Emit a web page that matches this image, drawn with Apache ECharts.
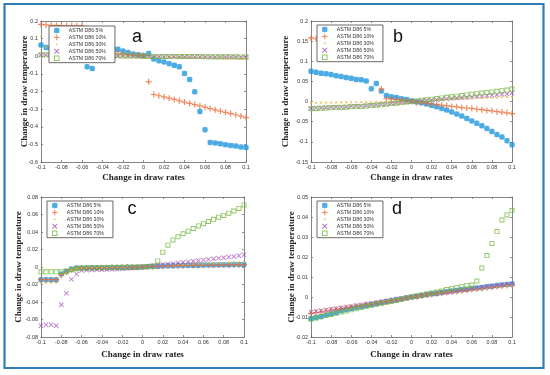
<!DOCTYPE html>
<html><head><meta charset="utf-8">
<script src="https://cdn.jsdelivr.net/npm/echarts@6/dist/echarts.min.js"></script>
<style>html,body{margin:0;padding:0;background:#fff}#c{width:550px;height:375px}</style>
</head><body><div id="c"></div>
<script>
// ---------- data ----------
const drawRates = [-0.1,-0.095,-0.09,-0.085,-0.08,-0.075,-0.07,-0.065,-0.06,-0.055,-0.05,-0.045,-0.04,-0.035,-0.03,-0.025,-0.02,-0.015,-0.01,-0.005,0,0.005,0.01,0.015,0.02,0.025,0.03,0.035,0.04,0.045,0.05,0.055,0.06,0.065,0.07,0.075,0.08,0.085,0.09,0.095,0.1];
const seriesNames = ['ASTM D86 5%','ASTM D86 10%','ASTM D86 30%','ASTM D86 50%','ASTM D86 70%'];
const panelLetters = ['a','b','c','d'];
const xAxisTitle = 'Change in draw rates';
const yAxisTitle = 'Change in draw temperature';
const xRange = [-0.1, 0.1, 0.02];
const yRanges = [[-0.6,0.2,0.1],[-0.15,0.2,0.05],[-0.08,0.08,0.02],[-0.02,0.05,0.01]];

// panel a
const a5  = [0.064,0.049,0.04,0.033,0.027,0.02,0.013,0.006,-0.005,-0.06,-0.07,0.06,0.055,0.05,0.045,0.04,0.03,0.021,0.013,0.009,0.004,0.015,-0.015,-0.025,-0.032,-0.042,-0.051,-0.06,-0.098,-0.132,-0.202,-0.313,-0.417,-0.489,-0.492,-0.496,-0.502,-0.506,-0.509,-0.515,-0.518];
const a10 = [0.181,0.178,0.176,0.175,0.174,0.173,0.173,0.172,0.172,0.15,0.12,0.09,0.06,0.04,0.025,0.017,0.013,0.009,0.008,0.006,0.004,-0.145,-0.217,-0.224,-0.231,-0.238,-0.245,-0.253,-0.26,-0.267,-0.274,-0.282,-0.289,-0.297,-0.304,-0.311,-0.318,-0.325,-0.332,-0.34,-0.348];
const a30 = [0.112,0.05,0.035,0.028,0.022,0.018,0.015,0.012,0.01,0.008,0.007,0.006,0.005,0.004,0.004,0.003,0.003,0.002,0.002,0.001,0,-0.001,-0.002,-0.002,-0.003,-0.004,-0.005,-0.005,-0.006,-0.007,-0.008,-0.008,-0.009,-0.01,-0.011,-0.011,-0.012,-0.013,-0.014,-0.014,-0.015];
const a50 = [0.007,0.007,0.006,0.006,0.006,0.005,0.005,0.005,0.004,0.004,0.004,0.003,0.003,0.003,0.002,0.002,0.002,0.001,0.001,0.001,0,-0.001,-0.001,-0.002,-0.002,-0.002,-0.002,-0.003,-0.003,-0.003,-0.003,-0.003,-0.003,-0.004,-0.004,-0.004,-0.004,-0.004,-0.004,-0.005,-0.005];
const a70 = [0.008,0.008,0.007,0.007,0.006,0.006,0.006,0.005,0.005,0.005,0.004,0.004,0.004,0.003,0.003,0.003,0.002,0.002,0.001,0.001,0,0,-0.001,-0.001,-0.001,-0.001,-0.002,-0.002,-0.002,-0.002,-0.002,-0.002,-0.003,-0.003,-0.003,-0.003,-0.003,-0.003,-0.003,-0.004,-0.004];
// panel b
const b5  = [0.075,0.073,0.070,0.069,0.067,0.064,0.062,0.060,0.058,0.055,0.054,0.051,0.032,0.045,0.026,0.015,0.012,0.010,0.007,0.005,0.002,-0.001,-0.003,-0.006,-0.009,-0.013,-0.017,-0.021,-0.026,-0.031,-0.036,-0.042,-0.048,-0.054,-0.060,-0.067,-0.074,-0.082,-0.088,-0.097,-0.107];
const b10 = [0.158,0.156,0.154,0.152,0.15,0.148,0.146,0.144,0.142,0.14,0.138,0.136,0.133,0.13,0.031,0.007,0.006,0.005,0.004,0.002,0,-0.002,-0.003,-0.004,-0.006,-0.007,-0.009,-0.010,-0.012,-0.013,-0.015,-0.016,-0.017,-0.019,-0.020,-0.022,-0.023,-0.025,-0.026,-0.028,-0.030];
const b30 = [-0.003,-0.003,-0.0028,-0.0027,-0.0025,-0.0024,-0.0022,-0.002,-0.0019,-0.0017,-0.0015,-0.0013,-0.0012,-0.001,-0.0008,-0.0006,-0.0005,-0.0003,-0.0002,-0.0001,0,0.001,0.0015,0.002,0.003,0.0035,0.004,0.005,0.0055,0.006,0.0065,0.007,0.0075,0.008,0.0085,0.009,0.0095,0.010,0.0105,0.011,0.012];
const b50 = [-0.017,-0.016,-0.0155,-0.015,-0.0145,-0.014,-0.0135,-0.013,-0.012,-0.0115,-0.011,-0.010,-0.009,-0.008,-0.007,-0.006,-0.005,-0.004,-0.0025,-0.001,0,0.001,0.002,0.003,0.004,0.005,0.006,0.007,0.008,0.009,0.010,0.011,0.012,0.013,0.014,0.015,0.016,0.017,0.018,0.019,0.021];
const b70 = [-0.018,-0.017,-0.0165,-0.016,-0.0155,-0.015,-0.0145,-0.014,-0.013,-0.0125,-0.012,-0.011,-0.010,-0.009,-0.008,-0.0065,-0.005,-0.004,-0.0025,-0.001,0,0.0015,0.003,0.0045,0.006,0.0075,0.009,0.0105,0.012,0.0135,0.015,0.0165,0.018,0.0195,0.021,0.0225,0.024,0.0255,0.027,0.0285,0.031];
// panel c
const c5  = [-0.0145,-0.0145,-0.0145,-0.0145,-0.008,-0.005,-0.0023,-0.0012,-0.001,-0.001,-0.0009,-0.0009,-0.0008,-0.0008,-0.0007,-0.0006,-0.0005,-0.0004,-0.0003,-0.0002,0,0.0003,0.0006,0.0009,0.0011,0.0013,0.0015,0.0017,0.0018,0.0019,0.002,0.0021,0.0022,0.0023,0.0024,0.0025,0.0026,0.0027,0.0028,0.0029,0.003];
const c10 = [-0.0145,-0.0145,-0.0145,-0.0145,-0.009,-0.006,-0.003,-0.0015,-0.0012,-0.0011,-0.001,-0.001,-0.0009,-0.0008,-0.0007,-0.0006,-0.0005,-0.0004,-0.0003,-0.0002,0,0.0003,0.0005,0.0008,0.001,0.0012,0.0014,0.0015,0.0016,0.0017,0.0018,0.0019,0.002,0.0021,0.0022,0.0022,0.0023,0.0024,0.0024,0.0025,0.0025];
const c30 = [-0.0185,-0.018,-0.018,-0.018,-0.012,-0.007,-0.0035,-0.002,-0.0015,-0.0014,-0.0013,-0.0012,-0.0011,-0.001,-0.0009,-0.0008,-0.0007,-0.0005,-0.0004,-0.0002,0,0.0004,0.0008,0.0012,0.0015,0.0018,0.0021,0.0024,0.0027,0.003,0.0033,0.0035,0.0038,0.004,0.0042,0.0044,0.0046,0.0048,0.005,0.0052,0.0055];
const c50 = [-0.067,-0.066,-0.066,-0.067,-0.043,-0.030,-0.014,-0.008,-0.004,-0.0035,-0.0033,-0.003,-0.003,-0.0028,-0.0026,-0.0024,-0.002,-0.0016,-0.0012,-0.0006,0,0.0007,0.0014,0.002,0.0027,0.0034,0.004,0.0047,0.0054,0.006,0.0067,0.0074,0.008,0.0087,0.0094,0.01,0.0107,0.0114,0.012,0.013,0.014];
const c70 = [-0.0055,-0.0055,-0.0055,-0.0055,-0.0055,-0.0045,-0.003,-0.002,-0.0015,-0.0012,-0.001,-0.0009,-0.0008,-0.0007,-0.0006,-0.0005,-0.0004,-0.0003,-0.0002,-0.0001,0,0.0005,0.001,0.0069,0.017,0.025,0.031,0.0345,0.038,0.041,0.044,0.047,0.0495,0.052,0.0545,0.057,0.059,0.0615,0.064,0.067,0.071];
// panel d
const d5  = [-0.0108,-0.0102,-0.0097,-0.009,-0.0084,-0.0077,-0.0068,-0.0062,-0.0057,-0.0052,-0.0047,-0.0042,-0.0037,-0.0032,-0.0027,-0.0022,-0.0018,-0.0013,-0.0009,-0.0004,0,0.0004,0.0008,0.0012,0.0016,0.0019,0.0023,0.0026,0.003,0.0033,0.0036,0.0039,0.0042,0.0045,0.0048,0.0051,0.0054,0.0057,0.006,0.0062,0.0065];
const d10 = [-0.0082,-0.0078,-0.0074,-0.007,-0.0066,-0.0062,-0.0058,-0.0054,-0.005,-0.0046,-0.0042,-0.0038,-0.0034,-0.003,-0.0026,-0.0022,-0.0018,-0.0014,-0.001,-0.0005,0,0.0003,0.0006,0.001,0.0013,0.0016,0.0019,0.0022,0.0025,0.0028,0.0031,0.0034,0.0037,0.004,0.0043,0.0046,0.0049,0.0052,0.0055,0.0058,0.006];
const d30 = [-0.0072,-0.0069,-0.0065,-0.0062,-0.0058,-0.0055,-0.0052,-0.0048,-0.0045,-0.0041,-0.0038,-0.0034,-0.0031,-0.0027,-0.0024,-0.002,-0.0017,-0.0013,-0.0009,-0.0005,0,0.0003,0.0006,0.0009,0.0012,0.0015,0.0018,0.0021,0.0024,0.0027,0.003,0.0033,0.0036,0.0039,0.0042,0.0045,0.0048,0.0051,0.0053,0.0056,0.0058];
const d50 = [-0.0076,-0.0072,-0.0069,-0.0065,-0.0061,-0.0058,-0.0054,-0.005,-0.0047,-0.0043,-0.004,-0.0036,-0.0032,-0.0029,-0.0025,-0.0021,-0.0018,-0.0014,-0.001,-0.0005,0,0.0003,0.0007,0.001,0.0014,0.0017,0.0021,0.0024,0.0028,0.0031,0.0035,0.0038,0.0042,0.0045,0.0049,0.0052,0.0055,0.0058,0.0061,0.0064,0.0066];
const d70 = [-0.011,-0.0105,-0.0099,-0.0093,-0.0087,-0.0081,-0.0075,-0.007,-0.0064,-0.0059,-0.0053,-0.0048,-0.0043,-0.0038,-0.0033,-0.0028,-0.0022,-0.0017,-0.0011,-0.0006,0,0.0005,0.001,0.0015,0.002,0.0025,0.003,0.0037,0.0043,0.0048,0.0053,0.0058,0.006,0.008,0.0145,0.0207,0.0268,0.0327,0.0385,0.041,0.0432];

const panelData = [[a5,a10,a30,a50,a70],[b5,b10,b30,b50,b70],[c5,c10,c30,c50,c70],[d5,d10,d30,d50,d70]];

// ---------- styles / layout ----------
const colors = ['#1e96dc','#ee6a35','#eeb42a','#a650b8','#72b93c'];
const symbols = [
  'path://M3.3,0H6.7V3.3H10V6.7H6.7V10H3.3V6.7H0V3.3H3.3Z M1.9,0L5,3.1L8.1,0L10,1.9L6.9,5L10,8.1L8.1,10L5,6.9L1.9,10L0,8.1L3.1,5L0,1.9Z',
  'path://M4,0H6V4H10V6H6V10H4V6H0V4H4Z',
  'circle',
  'path://M0,1.2L1.2,0L5,3.8L8.8,0L10,1.2L6.2,5L10,8.8L8.8,10L5,6.2L1.2,10L0,8.8L3.8,5Z',
  'path://M0,0H10V10H0Z M1.8,1.8V8.2H8.2V1.8Z'
];
const legendIcons = [symbols[0], symbols[1], 'path://M0,0M10,10M3.6,3.6H6.4V6.4H3.6Z', symbols[3], symbols[4]];
const symbolSizes = [5.5, 6, 2.2, 5, 5];
const grids = [
  {left:41, top:21, width:205, height:141},
  {left:311, top:21, width:201, height:141},
  {left:41, top:197, width:203, height:140},
  {left:311, top:197, width:201, height:140}
];
const xNameGaps = [11.5, 11.5, 13, 13];
const yNameGaps = [12, 21, 18, 15];
const legendPos = [[49,26],[317,25],[47,201],[317,201]];
const letterPos = [[137,37.5],[398,37.5],[132,209.5],[397,209.5]];

const lineCol = '#666';
const xAxes = [], yAxes = [], series = [], legends = [], graphics = [];
grids.forEach((g, i) => {
  const axisLine = {show:true, onZero:false, lineStyle:{color:lineCol, width:0.8}};
  const tick = {show:true, inside:true, length:2, lineStyle:{color:lineCol, width:0.7}};
  const lab = {fontSize:5.5, color:'#333', fontFamily:'Liberation Sans'};
  const yr = yRanges[i];
  xAxes.push({type:'value', gridIndex:i, min:xRange[0], max:xRange[1], interval:xRange[2], position:'bottom',
    axisLine, axisTick:tick, splitLine:{show:false}, axisLabel:Object.assign({margin:2}, lab),
    name:xAxisTitle, nameLocation:'middle', nameGap:xNameGaps[i], nameMoveOverlap:false,
    nameTextStyle:{fontFamily:'Liberation Serif', fontWeight:'bold', fontSize:9, color:'#222'}});
  yAxes.push({type:'value', gridIndex:i, min:yr[0], max:yr[1], interval:yr[2], position:'left',
    axisLine, axisTick:tick, splitLine:{show:false}, axisLabel:Object.assign({margin:3}, lab),
    name:yAxisTitle, nameLocation:'middle', nameGap:yNameGaps[i], nameRotate:90, nameMoveOverlap:false,
    nameTextStyle:{fontFamily:'Liberation Serif', fontWeight:'bold', fontSize:9, color:'#222'}});
});
grids.forEach((g, i) => {
  const axisLine = {show:true, onZero:false, lineStyle:{color:lineCol, width:0.8}};
  const tick = {show:true, inside:true, length:2, lineStyle:{color:lineCol, width:0.7}};
  const yr = yRanges[i];
  xAxes.push({type:'value', gridIndex:i, min:xRange[0], max:xRange[1], interval:xRange[2], position:'top',
    axisLine, axisTick:tick, splitLine:{show:false}, axisLabel:{show:false}});
  yAxes.push({type:'value', gridIndex:i, min:yr[0], max:yr[1], interval:yr[2], position:'right',
    axisLine, axisTick:tick, splitLine:{show:false}, axisLabel:{show:false}});
});
panelData.forEach((arrs, i) => {
  arrs.forEach((ys, s) => {
    series.push({type:'scatter', name:seriesNames[s], xAxisIndex:i, yAxisIndex:i,
      symbol:symbols[s], symbolSize:symbolSizes[s], itemStyle:{color:colors[s]},
      data: drawRates.map((x, k) => [x, ys[k]]), z:2});
  });
  legends.push({orient:'vertical', left:legendPos[i][0], top:legendPos[i][1],
    itemWidth:14, itemHeight:5.5, itemGap:1.4, padding:[1.8,9,1.8,5],
    backgroundColor:'#fff', borderColor:'#444', borderWidth:0.8, selectedMode:false,
    textStyle:{fontSize:5.2, color:'#333', fontFamily:'Liberation Sans'},
    data:seriesNames.map((n, s) => ({name:n, icon:legendIcons[s]}))});
  graphics.push({type:'text', x:letterPos[i][0], y:letterPos[i][1], z:10,
    style:{text:panelLetters[i], font:'18px "Liberation Sans"', fill:'#111', textAlign:'center', textVerticalAlign:'middle', verticalAlign:'middle'}});
});
graphics.push({type:'rect', shape:{x:4.5, y:4, width:539, height:364}, z:10,
  style:{fill:'none', stroke:'#2f7db6', lineWidth:2.2}});

const chart = echarts.init(document.getElementById('c'));
chart.setOption({
  animation:false,
  backgroundColor:'#fff',
  grid:grids,
  xAxis:xAxes,
  yAxis:yAxes,
  legend:legends,
  series:series,
  graphic:graphics
});
</script></body></html>
